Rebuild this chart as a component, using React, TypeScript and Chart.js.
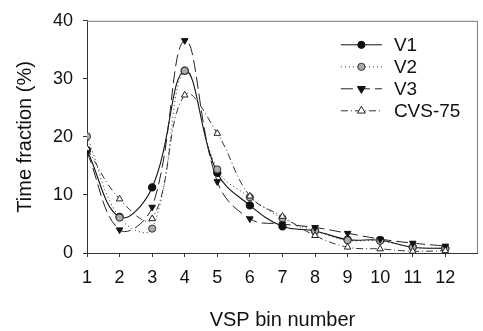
import React, { useEffect, useRef } from "react";
import { Chart, registerables } from "chart.js";

Chart.register(...registerables);

const bins = [1, 2, 3, 4, 5, 6, 7, 8, 9, 10, 11, 12];
const v1 = [17.7, 6.2, 11.3, 31.4, 13.8, 8.2, 4.6, 3.8, 2.3, 2.2, 1.0, 0.8];
const v2 = [20.1, 6.1, 4.2, 31.4, 14.4, 9.6, 6.0, 3.8, 2.2, 2.1, 1.0, 0.8];
const v3 = [17.4, 4.0, 7.9, 36.6, 12.3, 5.9, 5.0, 4.4, 3.4, 2.4, 1.7, 1.2];
const cvs75 = [18.0, 9.3, 5.9, 27.2, 20.6, 9.8, 6.3, 3.0, 1.0, 0.7, 0.3, 0.4];
const seriesNames = ["V1", "V2", "V3", "CVS-75"];
const yTicks = [0, 10, 20, 30, 40];
const xTitle = "VSP bin number";
const yTitle = "Time fraction (%)";

const FONT = "'Liberation Sans', Arial, sans-serif";

const framePlugin = {
  id: "frame",
  afterDraw(chart: any) {
    const { ctx, chartArea } = chart;
    ctx.save();
    ctx.strokeStyle = "#777";
    ctx.lineWidth = 1;
    ctx.beginPath();
    ctx.moveTo(chartArea.left, chartArea.top + 0.5);
    ctx.lineTo(chartArea.right - 0.5, chartArea.top + 0.5);
    ctx.lineTo(chartArea.right - 0.5, chartArea.bottom);
    ctx.stroke();
    ctx.restore();
  },
};

function drawMarker(ctx: CanvasRenderingContext2D, style: any, x: number, y: number) {
  const r = style.radius;
  ctx.beginPath();
  if (style.pointStyle === "circle") {
    ctx.arc(x, y, r, 0, Math.PI * 2);
  } else {
    const rot = (style.rotation * Math.PI) / 180;
    for (let k = 0; k < 3; k++) {
      const a = rot - Math.PI / 2 + (k * 2 * Math.PI) / 3;
      const px = x + Math.cos(a) * r * 1.2;
      const py = y + Math.sin(a) * r * 1.2;
      if (k === 0) ctx.moveTo(px, py);
      else ctx.lineTo(px, py);
    }
    ctx.closePath();
  }
  ctx.fill();
  ctx.stroke();
}

const legendPlugin = {
  id: "insideLegend",
  afterDraw(chart: any) {
    const { ctx, chartArea } = chart;
    const x0 = chartArea.right - 137;
    const x1 = chartArea.right - 96;
    const xm = (x0 + x1) / 2;
    const xt = chartArea.right - 84;
    chart.data.datasets.forEach((ds: any, i: number) => {
      const y = chartArea.top + 24 + i * 22;
      ctx.save();
      ctx.strokeStyle = ds.borderColor;
      ctx.lineWidth = 1;
      ctx.setLineDash(ds.borderDash || []);
      ctx.beginPath();
      ctx.moveTo(x0, y);
      ctx.lineTo(x1, y);
      ctx.stroke();
      ctx.setLineDash([]);
      ctx.restore();
      ctx.save();
      ctx.fillStyle = ds.pointBackgroundColor;
      ctx.strokeStyle = ds.pointBorderColor;
      ctx.lineWidth = 1;
      drawMarker(
        ctx,
        { pointStyle: ds.pointStyle, rotation: ds.pointRotation || 0, radius: ds.pointRadius },
        xm,
        y
      );
      ctx.restore();
      ctx.save();
      ctx.fillStyle = "#111";
      ctx.font = `19px ${FONT}`;
      ctx.textBaseline = "middle";
      ctx.textAlign = "left";
      ctx.fillText(ds.label, xt, y + 1);
      ctx.restore();
    });
  },
};

export default function App() {
  const ref = useRef<HTMLCanvasElement | null>(null);

  useEffect(() => {
    document.body.style.margin = "0";
    const canvas = ref.current!;
    const mk = (x: number[], y: number[]) => x.map((v, i) => ({ x: v, y: y[i] }));
    const chart = new Chart(canvas, {
      type: "line",
      data: {
        datasets: [
          {
            label: seriesNames[0],
            data: mk(bins, v1),
            order: 4,
            borderColor: "#111",
            borderWidth: 1.1,
            borderDash: [],
            pointStyle: "circle",
            pointRadius: 3.6,
            pointBackgroundColor: "#111",
            pointBorderColor: "#111",
            tension: 0.4,
          },
          {
            label: seriesNames[1],
            data: mk(bins, v2),
            order: 3,
            borderColor: "#333",
            borderWidth: 1,
            borderDash: [1, 3],
            pointStyle: "circle",
            pointRadius: 3.6,
            pointBackgroundColor: "#aaa",
            pointBorderColor: "#333",
            tension: 0.4,
          },
          {
            label: seriesNames[2],
            data: mk(bins, v3),
            order: 2,
            borderColor: "#222",
            borderWidth: 1,
            borderDash: [12, 5],
            pointStyle: "triangle",
            pointRotation: 180,
            pointRadius: 3.8,
            pointBackgroundColor: "#111",
            pointBorderColor: "#111",
            tension: 0.4,
          },
          {
            label: seriesNames[3],
            data: mk(bins, cvs75),
            order: 1,
            borderColor: "#333",
            borderWidth: 1,
            borderDash: [7, 3, 1, 3],
            pointStyle: "triangle",
            pointRadius: 3.8,
            pointBackgroundColor: "#fff",
            pointBorderColor: "#222",
            tension: 0.4,
          },
        ] as any,
      },
      options: {
        animation: false,
        responsive: false,
        maintainAspectRatio: false,
        layout: { padding: { top: 16, right: 2, left: 0, bottom: 0 } },
        plugins: { legend: { display: false }, tooltip: { enabled: false } },
        scales: {
          x: {
            type: "linear",
            min: 1,
            max: 13,
            afterFit: (s: any) => {
              s.height = 78;
            },
            afterBuildTicks: (s: any) => {
              s.ticks = bins.map((b) => ({ value: b }));
            },
            grid: {
              drawOnChartArea: false,
              drawTicks: true,
              tickLength: 4,
              color: "#333",
            },
            border: { color: "#333", width: 1 },
            ticks: {
              color: "#111",
              font: { family: FONT, size: 18 },
              padding: 10,
              maxRotation: 0,
              autoSkip: false,
            },
            title: {
              display: true,
              text: xTitle,
              color: "#111",
              font: { family: FONT, size: 20 },
              padding: { bottom: -1, top: 0 },
            },
          },
          y: {
            type: "linear",
            min: 0,
            max: 40,
            afterFit: (s: any) => {
              s.width = 87;
            },
            afterBuildTicks: (s: any) => {
              s.ticks = yTicks.map((v) => ({ value: v }));
            },
            grid: {
              drawOnChartArea: false,
              drawTicks: true,
              tickLength: 4,
              color: "#333",
            },
            border: { color: "#333", width: 1 },
            ticks: {
              color: "#111",
              font: { family: FONT, size: 18 },
              padding: 10,
            },
            title: {
              display: true,
              text: yTitle,
              color: "#111",
              font: { family: FONT, size: 20 },
              padding: { top: 13, bottom: 0 },
            },
          },
        },
      } as any,
      plugins: [framePlugin, legendPlugin],
    });
    return () => chart.destroy();
  }, []);

  return (
    <div style={{ width: 483, height: 331 }}>
      <canvas ref={ref} width={483} height={331} style={{ width: 483, height: 331, display: "block" }} />
    </div>
  );
}
